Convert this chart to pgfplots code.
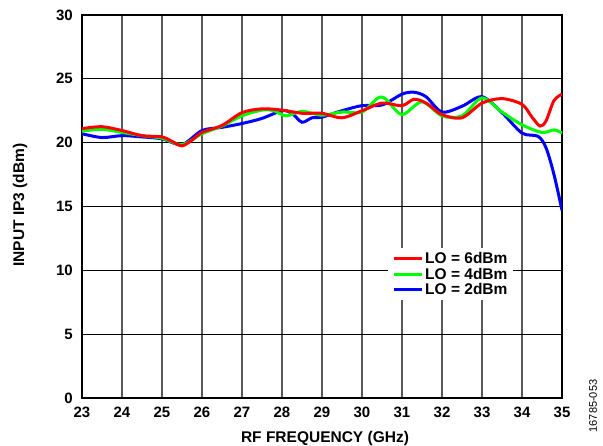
\documentclass[border=0pt]{standalone}
\usepackage{pgfplots}
\pgfplotsset{compat=1.18}
\usepackage{fontspec}
\setmainfont{Liberation Sans}
\begin{document}
\begin{tikzpicture}
\path[use as bounding box] (-82pt,-48pt) rectangle (521pt,398pt);
\begin{axis}[
  scale only axis, width=480pt, height=383pt,
  xmin=23, xmax=35, ymin=0, ymax=30,
  xtick={23,24,...,35}, ytick={0,5,...,30},
  grid=major,
  x grid style={black!65, line width=1.4pt},
  y grid style={black, line width=1pt},
  axis line style={line width=1.8pt},
  major tick length=0pt,
  tick label style={font=\fontsize{15}{18}\selectfont\bfseries, /pgf/number format/assume math mode=true},
  xticklabel style={anchor=north, inner sep=0pt, yshift=-9pt},
  yticklabel style={anchor=east, inner sep=0pt, xshift=-9pt},
  legend style={at={(rel axis cs:0.6375,0.392)}, anchor=north west, draw=none, fill=white,
    font=\fontsize{15.5}{16.5}\selectfont\bfseries, inner xsep=4pt, inner ysep=2pt, row sep=-1pt,
    /tikz/every even column/.append style={column sep=3pt}},
  legend cell align=left,
  legend image code/.code={\draw[#1] (0pt,0pt) -- (28pt,0pt);},
  every axis plot/.append style={line width=3pt, smooth},
]
\addlegendimage{red, line width=3pt}\addlegendentry{LO = 6dBm}
\addlegendimage{green, line width=3pt}\addlegendentry{LO = 4dBm}
\addlegendimage{blue, line width=3pt}\addlegendentry{LO = 2dBm}

% LO = 2dBm
\addplot[blue, forget plot] coordinates {
(23.0,20.7) (23.5,20.4) (24.0,20.55) (24.5,20.45) (25.0,20.3) (25.5,19.85)
(26.0,20.95) (26.5,21.2) (27.0,21.5) (27.5,21.9) (28.0,22.5) (28.25,22.3)
(28.5,21.6) (28.75,21.95) (29.0,22.0) (29.5,22.5) (30.0,22.9) (30.5,22.95)
(31.0,23.8) (31.3,23.95) (31.6,23.6) (32.0,22.4) (32.5,22.85) (33.0,23.6)
(33.5,22.35) (34.0,20.75) (34.4,20.5) (34.6,19.6) (34.8,17.5) (35.0,14.7)
};
% LO = 4dBm
\addplot[green, forget plot] coordinates {
(23.0,20.9) (23.5,21.05) (24.0,20.8) (24.5,20.55) (25.0,20.35) (25.5,19.85)
(26.0,20.7) (26.5,21.3) (27.0,22.1) (27.5,22.55) (27.8,22.5) (28.1,22.1)
(28.5,22.45) (29.0,22.15) (29.5,22.4) (30.0,22.4) (30.4,23.5) (30.6,23.4)
(31.0,22.2) (31.5,23.2) (32.0,22.1) (32.5,22.1) (33.0,23.5) (33.5,22.4)
(34.0,21.4) (34.5,20.8) (34.8,21.0) (35.0,20.75)
};
% LO = 6dBm
\addplot[red, forget plot] coordinates {
(23.0,21.1) (23.5,21.25) (24.0,20.95) (24.5,20.55) (25.0,20.45) (25.25,20.1)
(25.5,19.75) (25.75,20.2) (26.0,20.8) (26.5,21.35) (27.0,22.35) (27.5,22.65)
(28.0,22.55) (28.5,22.3) (29.0,22.3) (29.5,21.95) (30.0,22.5) (30.5,23.1)
(31.0,22.9) (31.3,23.4) (31.6,23.1) (32.0,22.2) (32.5,21.95) (33.0,23.1)
(33.5,23.45) (34.0,23.0) (34.25,22.0) (34.45,21.3) (34.6,21.7) (34.8,23.3)
(35.0,23.8)
};
\end{axis}
\node[rotate=90, font=\fontsize{15.5}{18}\selectfont\bfseries] at (-62pt,193pt) {INPUT IP3 (dBm)};
\node[anchor=base, font=\fontsize{15.5}{18}\selectfont\bfseries] at (243pt,-45pt) {RF FREQUENCY (GHz)};
\node[rotate=90, font=\fontsize{11}{13}\selectfont] at (511pt,-8pt) {16785-053};
\end{tikzpicture}
\end{document}
